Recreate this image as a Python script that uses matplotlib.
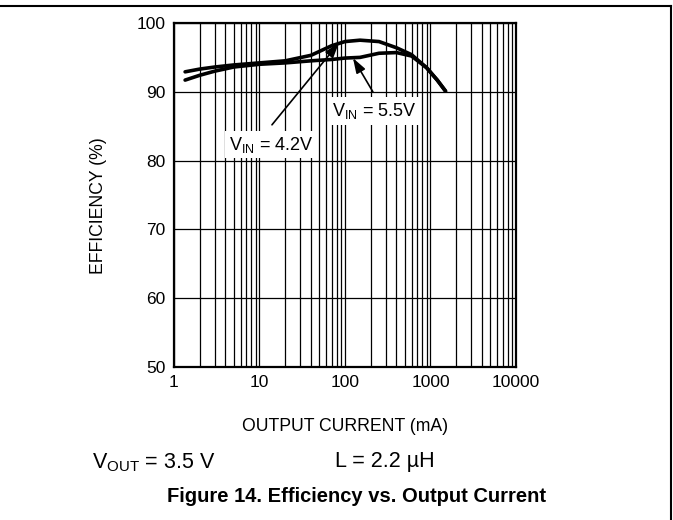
import matplotlib
matplotlib.use("Agg")
import matplotlib.pyplot as plt
from matplotlib.lines import Line2D
from matplotlib.ticker import LogLocator, FixedLocator

plt.rcParams['font.family'] = ['Liberation Sans', 'DejaVu Sans']
plt.rcParams['mathtext.fontset'] = 'custom'
plt.rcParams['mathtext.rm'] = 'Liberation Sans'
plt.rcParams['mathtext.it'] = 'Liberation Sans'

# data
current_ma = [1.35, 2, 3, 5, 10, 20, 40, 70, 100, 150, 250, 400, 600, 900, 1200, 1500]
eff_vin42 = [92.9, 93.3, 93.6, 93.9, 94.2, 94.5, 95.3, 96.7, 97.3, 97.5, 97.3, 96.4, 95.4, 93.5, 91.7, 90.1]
eff_vin55 = [91.7, 92.4, 93.0, 93.6, 94.0, 94.2, 94.5, 94.7, 94.9, 95.0, 95.6, 95.7, 95.2, 93.5, 91.7, 90.1]
x_ticks = [1, 10, 100, 1000, 10000]
y_ticks = [50, 60, 70, 80, 90, 100]

fig = plt.figure(figsize=(6.73, 5.2), dpi=100)
ax = fig.add_axes([0.2585, 0.2942, 0.5082, 0.6616])

ax.plot(current_ma, eff_vin42, color='black', lw=2.6, solid_capstyle='round', zorder=3)
ax.plot(current_ma, eff_vin55, color='black', lw=2.6, solid_capstyle='round', zorder=3)

ax.set_xscale('log')
ax.set_xlim(1, 10000)
ax.set_ylim(50, 100)
ax.xaxis.set_major_locator(FixedLocator(x_ticks))
ax.xaxis.set_minor_locator(LogLocator(base=10, subs=range(2, 10)))
ax.set_xticks(x_ticks)
ax.set_xticklabels([str(t) for t in x_ticks])
ax.set_yticks(y_ticks)
ax.set_yticklabels([str(t) for t in y_ticks])
ax.tick_params(which='both', length=0, labelsize=12.5, pad=6)
ax.xaxis.set_minor_formatter(plt.NullFormatter())
ax.grid(True, which='both', axis='x', color='black', lw=0.9)
ax.grid(True, which='major', axis='y', color='black', lw=0.9)
for s in ax.spines.values():
    s.set_linewidth(1.6)

ax.set_xlabel('OUTPUT CURRENT (mA)', fontsize=12.7, labelpad=20)
ax.set_ylabel('EFFICIENCY (%)', fontsize=12.7)
ax.yaxis.set_label_coords(-0.196, 0.47)

box = dict(boxstyle='square,pad=0.2', fc='white', ec='none')
arrow = dict(arrowstyle='-|>,head_length=0.9,head_width=0.3', color='black', lw=1.2,
             shrinkA=0, shrinkB=0)
ax.annotate(r'V$_{\mathrm{IN}}$ = 4.2V', xy=(85, 97.0), xytext=(13.6, 82.3),
            fontsize=13, ha='center', va='center', bbox=box, zorder=4)
ax.annotate('', xy=(85, 97.1), xytext=(14.0, 85.2), arrowprops=arrow, zorder=4)
ax.annotate(r'V$_{\mathrm{IN}}$ = 5.5V', xy=(124, 94.9), xytext=(218, 87.2),
            fontsize=13, ha='center', va='center', bbox=box, zorder=4)
ax.annotate('', xy=(124, 94.9), xytext=(212, 90.0), arrowprops=arrow, zorder=4)

fig.text(0.137, 0.11, r'V$_{\mathrm{OUT}}$ = 3.5 V', fontsize=15.5, va='center')
fig.text(0.498, 0.113, 'L = 2.2 µH', fontsize=15.5, va='center')
fig.text(0.53, 0.045, 'Figure 14. Efficiency vs. Output Current', fontsize=14.5,
         family=['Liberation Sans Narrow', 'Liberation Sans'],
         fontweight='bold', ha='center', va='center')

# page frame
fig.add_artist(Line2D([0, 0.997], [0.988, 0.988], color='black', lw=1.5, transform=fig.transFigure))
fig.add_artist(Line2D([0.997, 0.997], [0.988, 0], color='black', lw=1.5, transform=fig.transFigure))

fig.savefig('out.png', dpi=100)
